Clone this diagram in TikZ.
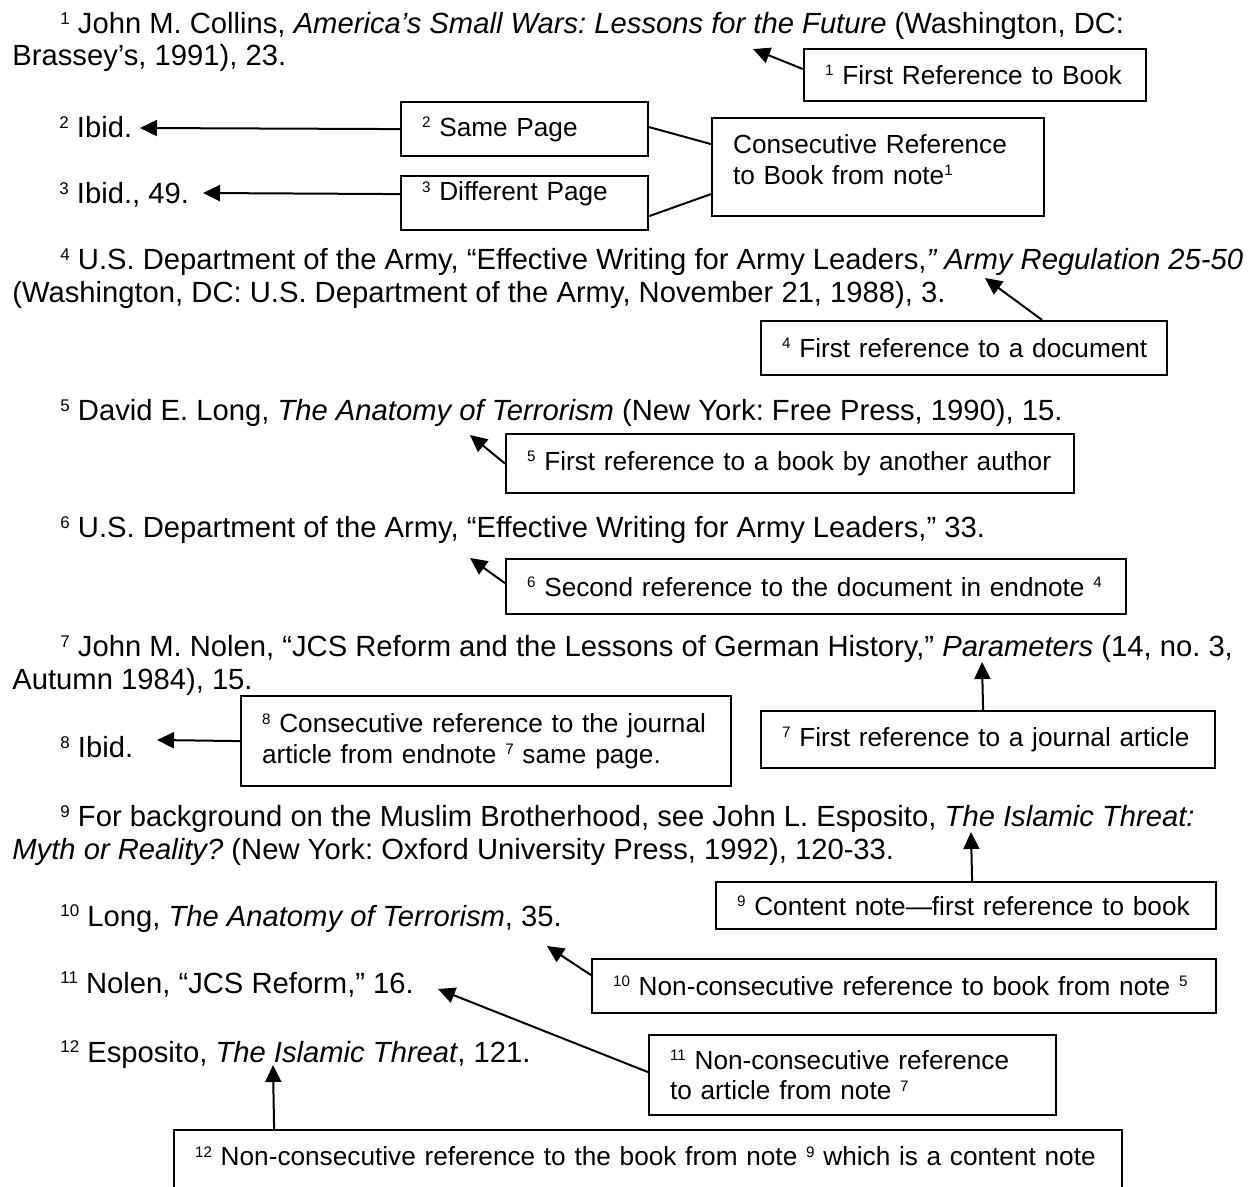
\documentclass[tikz,border=0pt]{standalone}
\usepackage{fontspec}
\setmainfont{Liberation Sans}
\usetikzlibrary{arrows.meta}
\newcommand\nsup[1]{\raisebox{0.33em}{\fontsize{0.58em}{0.58em}\selectfont #1}}
\newcommand\oneline[1]{\mbox{#1}}
\frenchspacing
\begin{document}
\begin{tikzpicture}[x=0.5pt,y=-0.5pt,
  font=\fontsize{14.6}{16.5}\selectfont\frenchspacing,
  body/.style={anchor=base west, inner sep=0pt},
  notebox/.style={draw, line width=1.1pt, anchor=north west, align=left,
    inner xsep=10.5pt, inner ysep=0pt, font=\fontsize{13.1}{15.3}\selectfont\frenchspacing},
  ptr/.style={line width=1pt, -{Triangle[length=8.5pt,width=8pt]}},
  link/.style={line width=1pt}]
\useasboundingbox (0,0) rectangle (1260,1187);
\clip (0,0) rectangle (1260,1187);
% body text
\node[body] (t1) at (60,34) {\nsup{1} John M. Collins, \textit{America’s Small Wars: Lessons for the Future} (Washington, DC:};
\node[body] (t2) at (12,66) {Brassey’s, 1991), 23.};
\node[body] (t3) at (59,138) {\nsup{2} Ibid.};
\node[body] (t4) at (59,204) {\nsup{3} Ibid., 49.};
\node[body] (t5) at (60,270) {\nsup{4} U.S. Department of the Army, “Effective Writing for Army Leaders,\textit{” Army Regulation 25-50}};
\node[body] (t6) at (12,303) {(Washington, DC: U.S. Department of the Army, November 21, 1988), 3.};
\node[body] (t7) at (60,421) {\nsup{5} David E. Long, \textit{The Anatomy of Terrorism} (New York: Free Press, 1990), 15.};
\node[body] (t8) at (60,538) {\nsup{6} U.S. Department of the Army, “Effective Writing for Army Leaders,” 33.};
\node[body] (t9) at (60,657) {\nsup{7} John M. Nolen, “JCS Reform and the Lessons of German History,” \textit{Parameters} (14, no. 3,};
\node[body] (t10) at (12,690) {Autumn 1984), 15.};
\node[body] (t11) at (60,758) {\nsup{8} Ibid.};
\node[body] (t12) at (60,827) {\nsup{9} For background on the Muslim Brotherhood, see John L. Esposito, \textit{The Islamic Threat:}};
\node[body] (t13) at (12,860) {\textit{Myth or Reality?} (New York: Oxford University Press, 1992), 120-33.};
\node[body] (t14) at (60,926) {\nsup{10} Long, \textit{The Anatomy of Terrorism}, 35.};
\node[body] (t15) at (60,993) {\nsup{11} Nolen, “JCS Reform,” 16.};
\node[body] (t16) at (60,1062) {\nsup{12} Esposito, \textit{The Islamic Threat}, 121.};
% boxes
\node[notebox, text width=150pt, minimum height=26pt] (b1) at (803,48) {\oneline{\nsup{1} First Reference to Book}};
\node[notebox, text width=102.5pt, minimum height=27pt] (b2) at (400,101) {\oneline{\nsup{2} Same Page}};
\node[notebox, text width=102.5pt, minimum height=27pt, text depth=12pt] (b3) at (400,175) {\oneline{\nsup{3} Different Page}};
\node[notebox, text width=145pt, minimum height=49pt, text depth=22.8pt] (bc) at (711,117) {\oneline{Consecutive Reference}\\\oneline{to Book from note\nsup{1}}};
\node[notebox, text width=182pt, minimum height=27pt] (b4) at (760,320) {\oneline{\nsup{4} First reference to a document}};
\node[notebox, text width=263pt, minimum height=29.5pt] (b5) at (505,433) {\oneline{\nsup{5} First reference to a book by another author}};
\node[notebox, text width=289pt, minimum height=27.5pt] (b6) at (505,558) {\oneline{\nsup{6} Second reference to the document in endnote \nsup{4}}};
\node[notebox, text width=206pt, minimum height=28.5pt] (b7) at (760,710) {\oneline{\nsup{7} First reference to a journal article}};
\node[notebox, text width=224pt, minimum height=45pt] (b8) at (240,695) {\oneline{\nsup{8} Consecutive reference to the journal}\\\oneline{article from endnote \nsup{7} same page.}};
\node[notebox, text width=229pt, minimum height=23.5pt] (b9) at (715,881) {\oneline{\nsup{9} Content note—first reference to book}};
\node[notebox, text width=291pt, minimum height=27pt] (b10) at (591,958) {\oneline{\nsup{10} Non-consecutive reference to book from note \nsup{5}}};
\node[notebox, text width=182.5pt, minimum height=40pt] (b11) at (648,1034) {\oneline{\nsup{11} Non-consecutive reference}\\\oneline{to article from note \nsup{7}}};
\node[notebox, text width=453pt, minimum height=40pt, text depth=14pt] (b12) at (173,1129) {\oneline{\nsup{12} Non-consecutive reference to the book from note \nsup{9} which is a content note}};
% arrow targets
\coordinate (p1) at (753,49);
\coordinate (p2) at (140,128);
\coordinate (p3) at (203,193);
\coordinate (p4) at (985,278);
\coordinate (p5) at (470,435);
\coordinate (p6) at (470,558);
\coordinate (p7) at (982,662);
\coordinate (p8) at (157,740);
\coordinate (p9) at (971,832);
\coordinate (p10) at (547,946);
\coordinate (p11) at (438,989);
\coordinate (p12) at (273,1065);
% connectors
\draw[ptr] ([yshift=3pt]b1.west) -- (p1);
\draw[ptr] (b2.west) -- (p2);
\draw[ptr] ([yshift=4.5pt]b3.west) -- (p3);
\draw[ptr] ([xshift=39pt]b4.north) -- (p4);
\draw[ptr] (b5.west) -- (p5);
\draw[ptr] ([yshift=1.75pt]b6.west) -- (p6);
\draw[ptr] ([xshift=-2.5pt]b7.north) -- (p7);
\draw[ptr] (b8.west) -- (p8);
\draw[ptr] ([xshift=3pt]b9.north) -- (p9);
\draw[ptr] ([yshift=5.5pt]b10.west) -- (p10);
\draw[ptr] ([yshift=1.5pt]b11.west) -- (p11);
\draw[ptr] ([xshift=-187pt]b12.north) -- (p12);
\draw[link] ([yshift=1pt]b2.east) -- ([yshift=11.5pt]bc.west);
\draw[link] ([yshift=-6.5pt]b3.east) -- ([yshift=-13.5pt]bc.west);
\end{tikzpicture}
\end{document}
